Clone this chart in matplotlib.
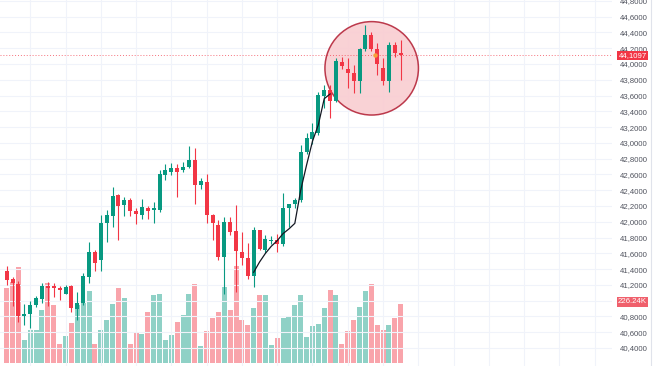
import numpy as np
import matplotlib.pyplot as plt
from matplotlib.patches import Ellipse
from matplotlib.ticker import FuncFormatter
import matplotlib.transforms as mtransforms

plt.rcParams['font.family'] = ['Liberation Sans', 'DejaVu Sans']

# OHLC (one entry per candle)
opens = [41.38, 41.27, 41.21, 40.80, 40.83, 40.94, 41.02, 41.19, 41.18, 41.16,
         41.09, 41.18, 40.89, 40.97, 41.30, 41.62, 41.51, 41.99, 42.07, 42.34,
         42.21, 42.28, 42.14, 42.09, 42.18, 42.15, 42.15, 42.59, 42.63, 42.68,
         42.65, 42.70, 42.78, 42.47, 42.51, 42.09, 41.96, 41.55, 42.00, 41.88,
         41.62, 41.54, 41.31, 41.89, 41.64, 41.76, 41.77, 41.72, 42.17, 42.22,
         42.28, 42.88, 43.05, 43.12, 43.60, 43.67, 43.53, 44.02, 43.94, 43.88,
         43.79, 44.19, 44.37, 44.19, 43.95, 43.78, 44.24, 44.14]
highs = [41.44, 41.30, 41.25, 40.96, 41.00, 41.06, 41.22, 41.24, 41.22, 41.18,
         41.20, 41.20, 41.11, 41.35, 41.75, 41.64, 42.08, 42.15, 42.44, 42.35,
         42.32, 42.30, 42.18, 42.29, 42.20, 42.25, 42.66, 42.73, 42.74, 42.73,
         42.76, 42.96, 42.93, 42.55, 42.61, 42.10, 42.02, 42.06, 42.06, 42.21,
         41.87, 41.73, 41.94, 41.90, 41.83, 41.82, 41.85, 42.36, 42.23, 42.30,
         42.97, 43.12, 43.25, 43.64, 43.73, 43.73, 44.08, 44.09, 44.07, 43.99,
         44.20, 44.49, 44.41, 44.26, 44.07, 44.28, 44.28, 44.30]
lows = [41.20, 40.93, 40.73, 40.69, 40.65, 40.92, 40.97, 40.93, 41.05, 41.01,
        41.08, 40.86, 40.75, 40.94, 41.22, 41.37, 41.37, 41.75, 41.94, 41.77,
        42.07, 42.07, 41.97, 42.04, 42.04, 41.99, 42.13, 42.53, 42.59, 42.32,
        42.63, 42.68, 42.23, 42.41, 41.98, 41.77, 41.51, 41.08, 41.83, 41.11,
        41.45, 41.27, 41.17, 41.64, 41.60, 41.72, 41.62, 41.69, 41.93, 42.18,
        42.25, 42.86, 42.99, 43.10, 43.44, 43.31, 43.52, 43.94, 43.69, 43.63,
        43.63, 44.16, 44.16, 43.86, 43.73, 43.65, 44.09, 43.80]
closes = [41.26, 41.22, 40.81, 40.83, 40.95, 41.04, 41.19, 41.16, 41.16, 41.13,
          41.17, 40.91, 40.97, 41.31, 41.62, 41.48, 41.99, 42.09, 42.33, 42.20,
          42.28, 42.14, 42.10, 42.19, 42.14, 42.17, 42.61, 42.65, 42.68, 42.63,
          42.69, 42.78, 42.47, 42.52, 42.09, 41.98, 41.55, 42.00, 41.87, 41.63,
          41.54, 41.31, 41.89, 41.65, 41.78, 41.77, 41.72, 42.18, 42.22, 42.28,
          42.89, 43.06, 43.14, 43.61, 43.67, 43.53, 44.04, 43.98, 43.88, 43.79,
          44.19, 44.37, 44.19, 44.00, 43.78, 44.24, 44.14, 44.1097]
# volume in thousands
volumes = [289, 312, 370, 89, 127, 127, 204, 308, 223, 73,
           104, 154, 223, 231, 277, 73, 127, 166, 227, 289,
           250, 73, 116, 112, 196, 262, 266, 89, 108, 158,
           185, 266, 304, 65, 123, 173, 196, 293, 204, 373,
           166, 146, 212, 262, 262, 69, 96, 173, 177, 223,
           262, 100, 142, 150, 212, 281, 262, 73, 123, 166,
           216, 277, 304, 146, 127, 146, 173, 226.24]

# hand drawn trend line (starts at candle 43)
line_start = 42
line_vals = [41.36, 41.49, 41.60, 41.69, 41.76, 41.85, 41.91, 41.98,
             42.40, 42.72, 43.02, 43.23, 43.56, 43.62]

# highlight circle (center in candle index / price)
circle_center = (62.07, 43.945)
circle_w, circle_h = 15.9, 1.184
marker_pt = (62.64, 44.11)
hidden_tick = 41.0   # sits under the volume label

UP = '#089981'
DOWN = '#F23645'

n = len(closes)
x = np.arange(n)
o = np.array(opens); c = np.array(closes)
h = np.array(highs); l = np.array(lows)
up = c >= o
cols = np.where(up, UP, DOWN)

fig = plt.figure(figsize=(6.54, 3.66), dpi=100)
ax = fig.add_axes([0, 0, 612 / 654, 1])
axv = ax.twinx()
ax.set_zorder(axv.get_zorder() + 1)
ax.patch.set_visible(False)

# volume pane
axv.bar(x, volumes, width=0.85, color=cols, alpha=0.45, linewidth=0)
axv.set_ylim(-12.7, 1396)
axv.set_yticks([])
for s in axv.spines.values():
    s.set_visible(False)

# grid
ax.set_yticks(np.arange(40.4, 44.81, 0.2))
ax.set_xticks(np.arange(4, 103, 6))
ax.grid(True, color='#f0f3fa', linewidth=0.8)
ax.set_axisbelow(True)

# circle
ax.add_patch(Ellipse(circle_center, circle_w, circle_h, facecolor='#f9cdd1',
                     edgecolor='#b5263a', linewidth=1.1, alpha=0.9, zorder=1))

# last price line
ax.axhline(closes[-1], color=DOWN, linestyle=(0, (1, 2)), linewidth=0.7, alpha=0.7, zorder=1.5)

# candles
ax.vlines(x, l, h, colors=cols, linewidth=0.8, zorder=2)
body = np.maximum(np.abs(c - o), 0.012)
ax.bar(x, body, bottom=np.minimum(o, c), width=0.68, color=cols, linewidth=0, zorder=2)

# trend line
ax.plot(np.arange(line_start, line_start + len(line_vals)), line_vals,
        color='#131722', linewidth=0.9, zorder=3)
ax.plot(*marker_pt, 'o', color='#f7a13a', markersize=2.2, zorder=3)

ax.set_xlim(-1.14, 102.94)
ax.set_ylim(40.172, 44.811)


def fmt(v, p):
    if abs(v - hidden_tick) < 1e-6:
        return ''
    return f"{v:.4f}".replace('.', ',')


ax.yaxis.tick_right()
ax.yaxis.set_major_formatter(FuncFormatter(fmt))
ax.tick_params(axis='y', length=0, pad=6, labelsize=5.6, labelcolor='#50535e')
ax.tick_params(axis='x', length=0, labelbottom=False)
for s in ax.spines.values():
    s.set_visible(False)

# price scale labels
trans = mtransforms.blended_transform_factory(ax.transAxes, ax.transData)
ax.text(1.0335, closes[-1], f"{closes[-1]:.4f}".replace('.', ','), transform=trans,
        ha='center', va='center', fontsize=5.6, color='white', zorder=5, clip_on=False,
        bbox=dict(boxstyle='square,pad=0.15', fc=DOWN, ec='none'))
transv = mtransforms.blended_transform_factory(ax.transAxes, axv.transData)
ax.text(1.0335, volumes[-1] + 8, f"{volumes[-1]:.2f}K", transform=transv,
        ha='center', va='center', fontsize=5.6, color='white', zorder=5, clip_on=False,
        bbox=dict(boxstyle='square,pad=0.15', fc='#f0606c', ec='none'))

fig.add_artist(plt.Line2D([651 / 654, 651 / 654], [0, 1], color='#e0e3eb', linewidth=0.8))

fig.savefig('out.png', dpi=100)
